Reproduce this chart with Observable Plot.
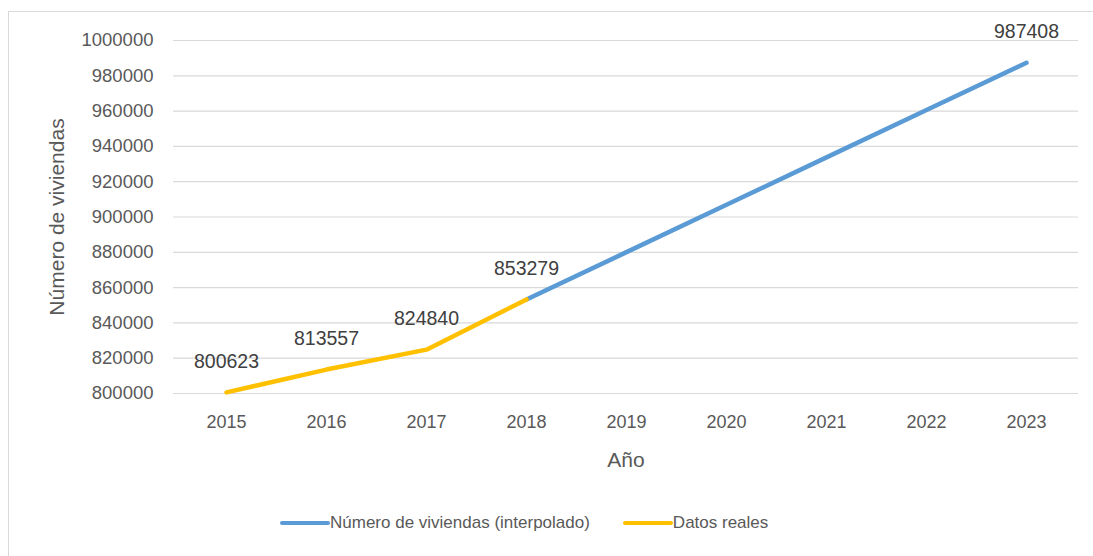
<!DOCTYPE html>
<html>
<head>
<meta charset="utf-8">
<script src="https://cdn.jsdelivr.net/npm/d3@7"></script>
<script src="https://cdn.jsdelivr.net/npm/@observablehq/plot@0.6"></script>
<style>
  html, body { margin: 0; padding: 0; background: #fff; }
  #frame {
    position: absolute; left: 8px; top: 11px; width: 1085px; height: 545px;
    box-sizing: border-box; border: 1px solid #d9d9d9; border-right: none; border-bottom: none;
    font-family: "Liberation Sans", Arial, sans-serif; color: #595959;
  }
  #legend {
    position: absolute; left: 271px; top: 501px; display: flex; align-items: center;
    font-size: 17px; color: #595959;
  }
  .item { display: flex; align-items: center; margin-right: 33px; }
  .sw { width: 50px; height: 4px; border-radius: 2px; }
</style>
</head>
<body>
<div id="frame">
  <div id="chart"></div>
  <div id="legend"></div>
</div>
<script>
const years = [2015, 2016, 2017, 2018, 2019, 2020, 2021, 2022, 2023];
const realYears = [2015, 2016, 2017, 2018];
const realValues = [800623, 813557, 824840, 853279];
const interpYears = [2018, 2019, 2020, 2021, 2022, 2023];
const interpValues = [853279, 880100, 906900, 933800, 960600, 987408];
const labelYears = [2015, 2016, 2017, 2018, 2023];
const labelValues = [800623, 813557, 824840, 853279, 987408];
const yTicks = [800000, 820000, 840000, 860000, 880000, 900000, 920000, 940000, 960000, 980000, 1000000];

const seriesNames = ["Número de viviendas (interpolado)", "Datos reales"];
const seriesColors = ["#5b9bd5", "#ffc000"];

const real = realYears.map((y, i) => ({year: y, value: realValues[i]}));
const interp = interpYears.map((y, i) => ({year: y, value: interpValues[i]}));
const labels = labelYears.map((y, i) => ({year: y, value: labelValues[i]}));

const chart = Plot.plot({
  width: 1084,
  height: 470,
  marginLeft: 164,
  marginRight: 15,
  marginTop: 28,
  marginBottom: 89,
  style: {fontFamily: "'Liberation Sans', Arial, sans-serif", fontSize: "17px", color: "#595959", background: "transparent"},
  x: {type: "point", domain: years, padding: 0.5},
  y: {domain: [800000, 1000000]},
  marks: [
    Plot.gridY(yTicks, {stroke: "#d9d9d9", strokeOpacity: 1, strokeWidth: 1.2}),
    Plot.axisY(yTicks, {tickSize: 0, tickPadding: 20, tickFormat: d3.format("d"), fontSize: 18.5,
      label: "Número de viviendas", labelAnchor: "center", labelArrow: "none", labelOffset: 124}),
    Plot.axisX(years, {tickSize: 0, tickPadding: 22, tickFormat: d => String(d), fontSize: 18,
      label: "Año", labelAnchor: "center", labelArrow: "none", labelOffset: 73}),
    Plot.line(interp, {x: "year", y: "value", stroke: seriesColors[0], strokeWidth: 4.5, strokeLinecap: "round"}),
    Plot.line(real, {x: "year", y: "value", stroke: seriesColors[1], strokeWidth: 4.5, strokeLinecap: "round"}),
    Plot.text(labels, {x: "year", y: "value", text: d => String(d.value), dy: -31, fontSize: 19.5, fill: "#404040"})
  ]
});
chart.querySelectorAll("[aria-label='y-axis label'] text").forEach(t => t.setAttribute("font-size", "21"));
chart.querySelectorAll("[aria-label='x-axis label'] text").forEach(t => t.setAttribute("font-size", "21"));
document.getElementById("chart").appendChild(chart);

const legend = document.getElementById("legend");
seriesNames.forEach((name, i) => {
  const it = document.createElement("div");
  it.className = "item";
  const sw = document.createElement("div");
  sw.className = "sw";
  sw.style.background = seriesColors[i];
  const tx = document.createElement("span");
  tx.textContent = name;
  it.appendChild(sw); it.appendChild(tx);
  legend.appendChild(it);
});
</script>
</body>
</html>
